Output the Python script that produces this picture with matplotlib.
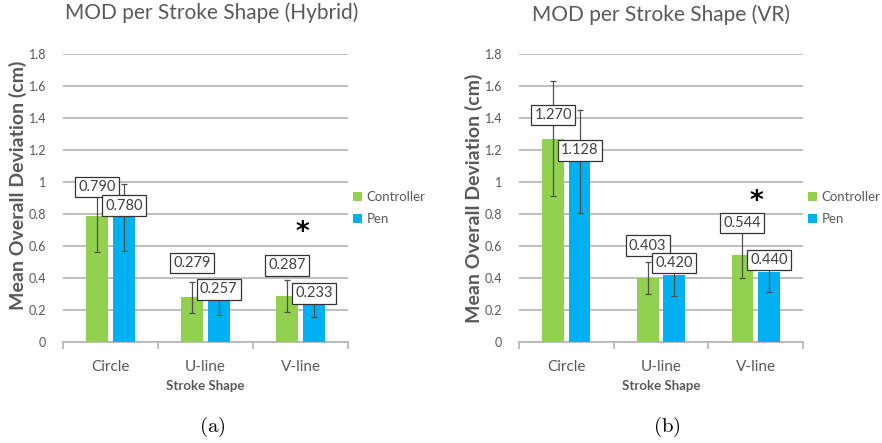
import numpy as np
import matplotlib
matplotlib.use('Agg')
import matplotlib.pyplot as plt

plt.rcParams['font.family'] = ['Lato', 'DejaVu Sans']
plt.rcParams['mathtext.fontset'] = 'cm'

# stroke shapes and mean overall deviation (cm)
shapes = ['Circle', 'U-line', 'V-line']
series_names = ['Controller', 'Pen']

hyb_ctrl = [0.790, 0.279, 0.287]
hyb_pen = [0.780, 0.257, 0.233]
hyb_ctrl_err = [0.23, 0.096, 0.098]
hyb_pen_err = [0.21, 0.090, 0.075]

vr_ctrl = [1.270, 0.403, 0.544]
vr_pen = [1.128, 0.420, 0.440]
vr_ctrl_err = [0.36, 0.10, 0.145]
vr_pen_err = [0.32, 0.13, 0.13]

yticks = [0, 0.2, 0.4, 0.6, 0.8, 1.0, 1.2, 1.4, 1.6, 1.8]
ytick_labels = ['0', '0.2', '0.4', '0.6', '0.8', '1', '1.2', '1.4', '1.6', '1.8']

GREEN = '#92d050'
BLUE = '#00b0f0'
TXT = '#595959'
GRID = '#b4b4b4'


def draw_panel(fig, rect, title, title_xy, ylab_xy, ctrl, pen, ctrl_err, pen_err,
               ctrl_lab_y, pen_lab_y, star_xy, sub, sub_x):
    ax = fig.add_axes(rect)
    x = np.arange(len(shapes))
    w = 0.23
    off = 0.14
    ax.bar(x - off, ctrl, w, color=GREEN, label=series_names[0], zorder=2)
    ax.bar(x + off, pen, w, color=BLUE, label=series_names[1], zorder=2)
    ax.errorbar(x - off, ctrl, yerr=ctrl_err, fmt='none', ecolor='#505050',
                elinewidth=0.9, capsize=2, capthick=0.9, zorder=3)
    ax.errorbar(x + off, pen, yerr=pen_err, fmt='none', ecolor='#505050',
                elinewidth=0.9, capsize=2, capthick=0.9, zorder=3)

    box = dict(boxstyle='square,pad=0.22', fc='white', ec='#333333', lw=0.9)
    for i in range(len(shapes)):
        ax.text(x[i] - off, ctrl_lab_y[i], f'{ctrl[i]:.3f}', ha='center', va='center',
                fontsize=10.5, color='#404040', bbox=box, zorder=4)
        ax.text(x[i] + off, pen_lab_y[i], f'{pen[i]:.3f}', ha='center', va='center',
                fontsize=10.5, color='#404040', bbox=box, zorder=4)

    # significance marker (mathtext keeps the text box tight round the glyph)
    ax.text(star_xy[0], star_xy[1], r'$\mathbf{*}$', ha='center', va='center',
            fontsize=19, math_fontfamily='dejavusans', color='black', zorder=4)

    ax.set_xlim(-0.5, 2.5)
    ax.set_ylim(0, 1.8)
    ax.set_yticks(yticks)
    ax.set_yticklabels(ytick_labels)
    ax.set_xticks(x)
    ax.set_xticklabels(shapes)
    ax.set_xticks([-0.5, 0.5, 1.5, 2.5], minor=True)
    ax.tick_params(axis='x', which='major', length=0, pad=13, labelsize=11, labelcolor=TXT)
    ax.tick_params(axis='x', which='minor', length=5, color=GRID, width=1.2)
    ax.tick_params(axis='y', length=0, pad=12, labelsize=9, labelcolor=TXT)
    ax.grid(axis='y', color=GRID, lw=1.2, zorder=0)
    for s in ['top', 'right', 'left']:
        ax.spines[s].set_visible(False)
    ax.spines['bottom'].set_color(GRID)
    ax.spines['bottom'].set_linewidth(1.2)
    ax.spines['bottom'].set_zorder(1)

    ax.legend(loc='center left', bbox_to_anchor=(1.0, 0.464), frameon=False,
              fontsize=9.5, handlelength=0.65, handleheight=0.65, handletextpad=0.35,
              labelspacing=0.75, borderaxespad=0.2, borderpad=0.2, labelcolor=TXT)

    fig.text(title_xy[0], title_xy[1], title, ha='center', va='center',
             fontsize=15, color=TXT)
    fig.text(ylab_xy[0], ylab_xy[1], 'Mean Overall Deviation (cm)', rotation=90,
             ha='center', va='center', fontsize=14, fontweight='bold', color=TXT)
    xc = rect[0] + rect[2] / 2
    fig.text(xc, 1 - 386 / 443, 'Stroke Shape', ha='center', va='center',
             fontsize=9.5, fontweight='bold', color=TXT)
    fig.text(sub_x, 1 - 427 / 443, r'$\mathrm{' + sub + '}$', ha='center',
             va='center', fontsize=15, color='black')
    return ax


fig = plt.figure(figsize=(8.82, 4.43), dpi=100)

draw_panel(fig, [63 / 882, 101 / 443, 285 / 882, 288 / 443],
           'MOD per Stroke Shape (Hybrid)', (212 / 882, 1 - 13 / 443),
           (18 / 882, 1 - 185 / 443),
           hyb_ctrl, hyb_pen, hyb_ctrl_err, hyb_pen_err,
           [0.97, 0.492, 0.479], [0.852, 0.329, 0.304], (2.02, 0.70),
           '(a)', 212 / 882)

draw_panel(fig, [519 / 882, 101 / 443, 284 / 882, 288 / 443],
           'MOD per Stroke Shape (VR)', (661 / 882, 1 - 15 / 443),
           (474 / 882, 1 - 198 / 443),
           vr_ctrl, vr_pen, vr_ctrl_err, vr_pen_err,
           [1.419, 0.602, 0.742], [1.198, 0.492, 0.5125], (2.01, 0.89),
           '(b)', 667 / 882)

fig.savefig('out.png', dpi=100)
